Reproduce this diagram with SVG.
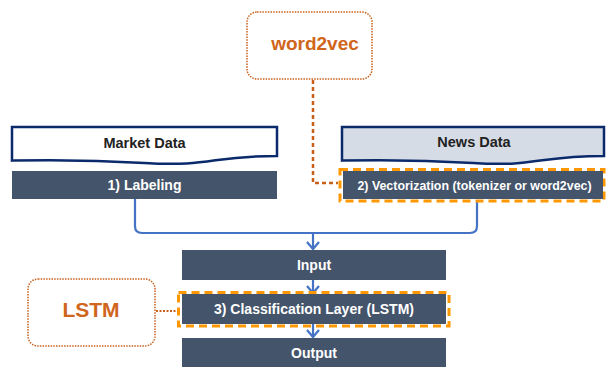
<svg xmlns="http://www.w3.org/2000/svg" width="606" height="367" viewBox="0 0 606 367">
<style>
.bar{fill:#44546a}
.bt{font-family:"Liberation Sans",Arial,sans-serif;font-weight:bold;font-size:14px;fill:#ffffff;text-anchor:middle}
.ht{font-family:"Liberation Sans",Arial,sans-serif;font-weight:bold;font-size:14.5px;fill:#222222;text-anchor:middle}
.doc{stroke:#0b2a6b;stroke-width:2.5}
.hl{fill:none;stroke:#ff9800;stroke-width:3;stroke-dasharray:8 5}
.rb{fill:#ffffff;stroke:#c9601a;stroke-width:1.5;stroke-dasharray:1.5 1.2}
.ot{font-family:"Liberation Sans",Arial,sans-serif;font-weight:bold;fill:#d0651c;text-anchor:middle}
.blue{fill:none;stroke:#4472c4;stroke-width:2.2}
.dot{fill:none;stroke:#c9601a;stroke-width:2.5;stroke-dasharray:4 3}
</style>
<rect width="606" height="367" fill="#ffffff"/>
<g id="connectors">
<path class="dot" d="M313,80 V183 H338"/>
<path d="M156,311 H177" fill="none" stroke="#c9601a" stroke-width="2" stroke-dasharray="2 1.5"/>
<path class="blue" d="M135,199 V226 Q135,233 142,233 H470 Q477,233 477,226 V202"/>
<path class="blue" d="M313,233 V249"/>
<path class="blue" d="M307,242 L313,249 L319,242"/>
<path class="blue" d="M313,280 V293"/>
<path class="blue" d="M307,286 L313,293 L319,286"/>
<path class="blue" d="M313,324 V337"/>
<path class="blue" d="M307,330 L313,337 L319,330"/>
</g>
<g id="word2vec">
<rect class="rb" x="247" y="12" width="125" height="67" rx="10"/>
<text class="ot" x="315" y="50" font-size="19">word2vec</text>
</g>
<g id="market-data">
<path class="doc" fill="#ffffff" d="M12,127 H277 V155.9 C211,155.9 211,167 144.5,163 C78,159 12,160.6 12,160.6 Z"/>
<text class="ht" x="144.5" y="148">Market Data</text>
</g>
<g id="news-data">
<path class="doc" fill="#d6dce5" d="M342,127 H604 V155.9 C538,155.9 538,167 473,163 C407,159 342,160.6 342,160.6 Z"/>
<text class="ht" x="474" y="147">News Data</text>
</g>
<g id="labeling">
<rect class="bar" x="12" y="171" width="265" height="28"/>
<text class="bt" x="144.5" y="190">1) Labeling</text>
</g>
<g id="vectorization">
<rect class="hl" x="340" y="169.5" width="264" height="31.5"/>
<rect class="bar" x="343" y="171" width="260" height="28"/>
<text class="bt" x="474.5" y="189.5" style="font-size:12.4px">2) Vectorization (tokenizer or word2vec)</text>
</g>
<g id="input">
<rect class="bar" x="182" y="250" width="264" height="30"/>
<text class="bt" x="314" y="270">Input</text>
</g>
<g id="lstm">
<rect class="rb" x="28" y="279" width="127" height="67" rx="10"/>
<text class="ot" x="91" y="317" font-size="21">LSTM</text>
</g>
<g id="classification">
<rect class="hl" x="178.5" y="292.5" width="270.5" height="33.5"/>
<rect class="bar" x="182" y="294" width="264" height="30"/>
<text class="bt" x="314" y="314">3) Classification Layer (LSTM)</text>
</g>
<g id="output">
<rect class="bar" x="182" y="338" width="264" height="29"/>
<text class="bt" x="314" y="358">Output</text>
</g>
</svg>
